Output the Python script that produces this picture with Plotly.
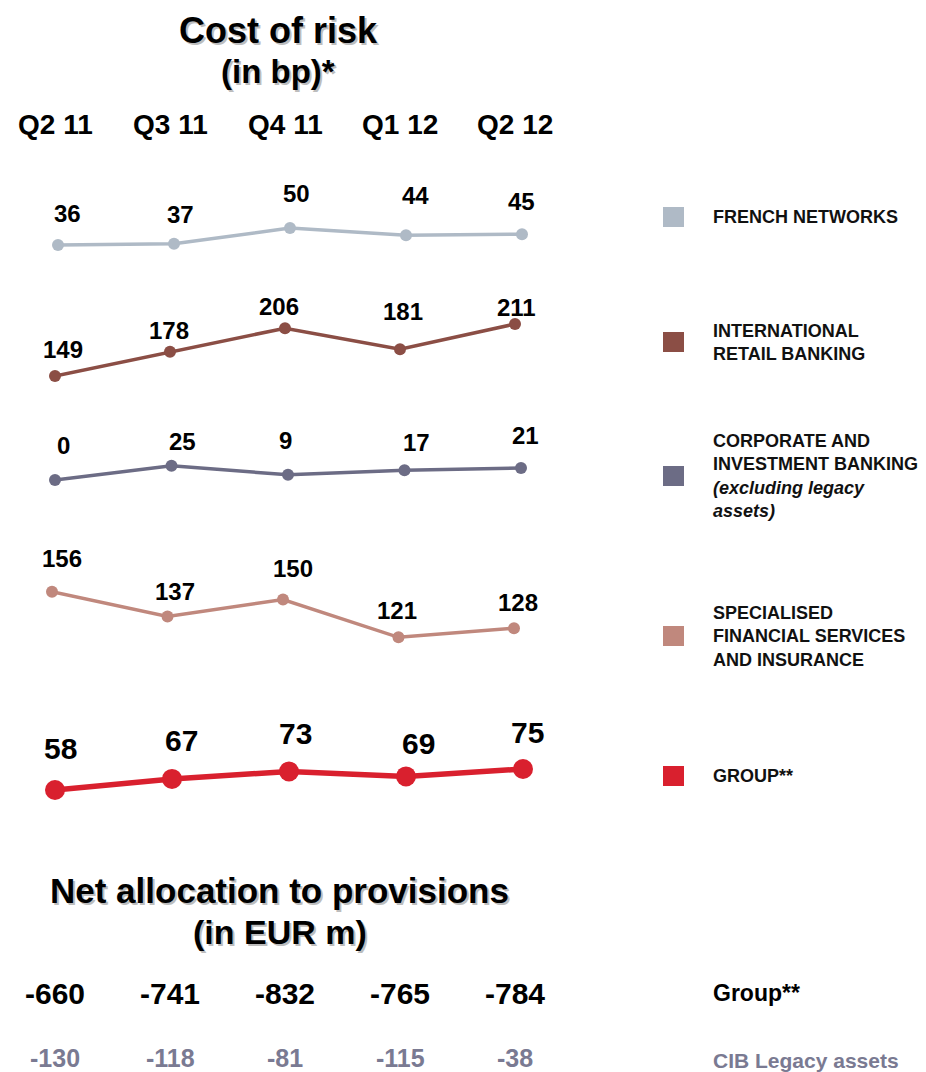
import plotly.graph_objects as go

# ---- data -------------------------------------------------------------
quarters = ["Q2 11", "Q3 11", "Q4 11", "Q1 12", "Q2 12"]

french_networks = [36, 37, 50, 44, 45]
intl_retail = [149, 178, 206, 181, 211]
cib_excl_legacy = [0, 25, 9, 17, 21]
sfs_insurance = [156, 137, 150, 121, 128]
group_total = [58, 67, 73, 69, 75]

provisions_group = [-660, -741, -832, -765, -784]
provisions_cib_legacy = [-130, -118, -81, -115, -38]

legend_labels = [
    "FRENCH NETWORKS",
    "INTERNATIONAL<br>RETAIL BANKING",
    "CORPORATE AND<br>INVESTMENT BANKING<br><i>(excluding legacy</i><br><i>assets)</i>",
    "SPECIALISED<br>FINANCIAL SERVICES<br>AND INSURANCE",
    "GROUP**",
]

# ---- page geometry helpers (pixels -> paper fractions) -----------------
W, H = 926, 1072
FONT = "Liberation Sans, Arial, Helvetica, sans-serif"


def px(x):
    return x / W


def py(y):
    return 1 - y / H


# one small panel per business line: horizontal span, vertical band,
# value range and manual label nudges
panels = [
    dict(values=french_networks, color="#AFBAC6", msize=12, lw=3.5, fsize=24,
         xspan=(58, 522), band=(170, 265), yrange=(19.5, 98.0),
         dx=[9, 6, 6, 9, -1], dy=[-32, -29, -35, -40, -33], legend_y=217),
    dict(values=intl_retail, color="#8B4E45", msize=12, lw=3.5, fsize=24,
         xspan=(55, 515), band=(285, 395), yrange=(126.4, 257.5),
         dx=[8, -1, -6, 3, 1], dy=[-27, -21, -22, -38, -17], legend_y=342),
    dict(values=cib_excl_legacy, color="#6C6C85", msize=12, lw=3.5, fsize=24,
         xspan=(55, 521), band=(420, 495), yrange=(-26.2, 104.9),
         dx=[8, 11, -3, 12, 4], dy=[-35, -24, -34, -28, -33], legend_y=476),
    dict(values=sfs_insurance, color="#C0887D", msize=12, lw=3.5, fsize=24,
         xspan=(52, 514), band=(540, 655), yrange=(107.4, 195.7),
         dx=[10, 7, 10, -2, 4], dy=[-33, -25, -31, -27, -26], legend_y=636),
    dict(values=group_total, color="#D9202E", msize=20, lw=5.5, fsize=30,
         xspan=(55, 523), band=(700, 810), yrange=(41.8, 130.9),
         dx=[5, 9, 6, 12, 4], dy=[-42, -38, -38, -33, -37], legend_y=776),
]

fig = go.Figure()
annotations = []
shapes = []
layout_axes = {}

for i, p in enumerate(panels, start=1):
    xa = "x" if i == 1 else f"x{i}"
    ya = "y" if i == 1 else f"y{i}"
    xkey = "xaxis" if i == 1 else f"xaxis{i}"
    ykey = "yaxis" if i == 1 else f"yaxis{i}"
    layout_axes[xkey] = dict(
        domain=[px(p["xspan"][0]), px(p["xspan"][1])],
        range=[0, 4], type="category", categoryorder="array",
        categoryarray=quarters, visible=False, anchor=ya,
    )
    layout_axes[ykey] = dict(
        domain=[py(p["band"][1]), py(p["band"][0])],
        range=list(p["yrange"]), visible=False, anchor=xa,
    )
    fig.add_trace(go.Scatter(
        x=quarters, y=p["values"], xaxis=xa, yaxis=ya,
        mode="lines+markers", cliponaxis=False, hoverinfo="skip",
        line=dict(color=p["color"], width=p["lw"]),
        marker=dict(color=p["color"], size=p["msize"]),
    ))
    # value labels above each point
    for q, v, dx, dy in zip(quarters, p["values"], p["dx"], p["dy"]):
        annotations.append(dict(
            x=q, y=v, xref=xa, yref=ya, text=f"<b>{v}</b>", showarrow=False,
            xshift=dx, yshift=-dy, xanchor="center", yanchor="middle",
            font=dict(family=FONT, size=p["fsize"], color="#000000"),
        ))
    # legend swatch and label
    cy = p["legend_y"]
    shapes.append(dict(
        type="rect", xref="paper", yref="paper",
        x0=px(663), x1=px(684), y0=py(cy + 10), y1=py(cy - 10),
        fillcolor=p["color"], line=dict(width=0), layer="above",
    ))
    annotations.append(dict(
        x=px(711), y=py(cy), xref="paper", yref="paper",
        text=f"<b>{legend_labels[i - 1]}</b>", showarrow=False,
        xanchor="left", yanchor="middle", align="left",
        font=dict(family=FONT, size=18, color="#111111"),
    ))

# quarter headers
for q in quarters:
    annotations.append(dict(
        x=q, y=py(125), xref="x2", yref="paper", text=f"<b>{q}</b>",
        showarrow=False, xanchor="center", yanchor="middle",
        font=dict(family=FONT, size=28, color="#000000"),
    ))


def shadowed_title(text, cx, cy, size):
    # soft grey drop shadow, then the black title on top
    for dx, dy, col in [(2, 2, "#BDBDBD"), (0, 0, "#000000")]:
        annotations.append(dict(
            x=px(cx), y=py(cy), xref="paper", yref="paper",
            text=f"<b>{text}</b>", showarrow=False,
            xshift=dx, yshift=-dy, xanchor="center", yanchor="middle",
            font=dict(family=FONT, size=size, color=col),
        ))


shadowed_title("Cost of risk", 278, 30, 36)
shadowed_title("(in bp)*", 278, 72, 33)
shadowed_title("Net allocation to provisions", 279, 890, 35)
shadowed_title("(in EUR m)", 280, 932, 34)

# net allocation to provisions rows
for q, g, c in zip(quarters, provisions_group, provisions_cib_legacy):
    annotations.append(dict(
        x=q, y=py(993), xref="x2", yref="paper", text=f"<b>{g}</b>",
        showarrow=False, xanchor="center", yanchor="middle",
        font=dict(family=FONT, size=30, color="#000000"),
    ))
    annotations.append(dict(
        x=q, y=py(1058), xref="x2", yref="paper", text=f"<b>{c}</b>",
        showarrow=False, xanchor="center", yanchor="middle",
        font=dict(family=FONT, size=25, color="#7A7A92"),
    ))

annotations.append(dict(
    x=px(711), y=py(993), xref="paper", yref="paper", text="<b>Group**</b>",
    showarrow=False, xanchor="left", yanchor="middle",
    font=dict(family=FONT, size=23, color="#000000"),
))
annotations.append(dict(
    x=px(711), y=py(1060), xref="paper", yref="paper",
    text="<b>CIB Legacy assets</b>", showarrow=False,
    xanchor="left", yanchor="middle",
    font=dict(family=FONT, size=21, color="#7A7A92"),
))

fig.update_layout(
    width=W, height=H,
    margin=dict(l=0, r=0, t=0, b=0),
    paper_bgcolor="#FFFFFF", plot_bgcolor="#FFFFFF",
    showlegend=False,
    annotations=annotations, shapes=shapes,
    **layout_axes,
)

fig.write_html("out.html", config={"displayModeBar": False})
